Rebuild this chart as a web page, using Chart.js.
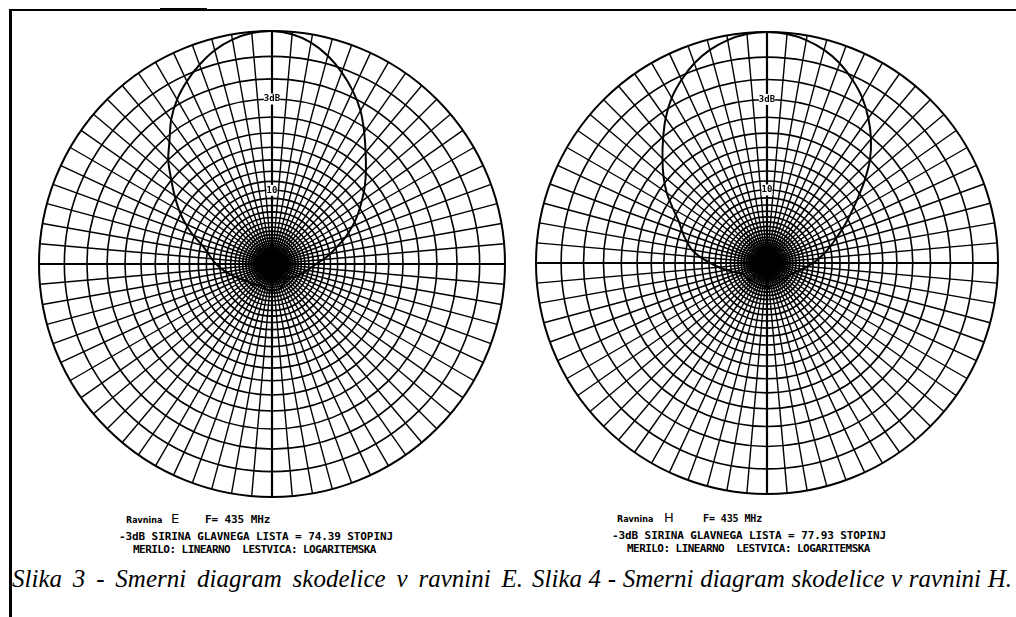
<!DOCTYPE html>
<html>
<head>
<meta charset="utf-8">
<script src="https://cdn.jsdelivr.net/npm/chart.js@4/dist/chart.umd.min.js"></script>
<style>
  html, body { margin: 0; padding: 0; background: #fff; }
  body { width: 1016px; height: 617px; position: relative; overflow: hidden; }
  .frameTop { position: absolute; left: 9px; top: 9px; width: 1007px; height: 2px; background: #000; }
  .frameTopThick { position: absolute; left: 160px; top: 8px; width: 47px; height: 3px; background: #000; }
  .frameLeft { position: absolute; left: 9px; top: 9px; width: 3px; height: 608px; background: #000; }
  canvas { position: absolute; }
  .info { position: absolute; font-family: "DejaVu Sans Mono", monospace; font-weight: bold;
          font-size: 11px; color: #000; white-space: pre; line-height: 13px; letter-spacing: -0.1px; }
  .small { position: absolute; font-family: "DejaVu Sans", sans-serif; font-size: 8px; font-weight: bold;
           letter-spacing: 0; color: #000; white-space: pre; }
  .big { position: absolute; font-family: "DejaVu Sans", sans-serif; font-size: 13px; color: #000; }
  .caption { position: absolute; top: 565px; font-family: "Liberation Serif", serif; font-style: italic;
             font-size: 25px; color: #000; white-space: nowrap; text-align: justify; text-align-last: justify; }
</style>
</head>
<body>
<div class="frameTop"></div>
<div class="frameTopThick"></div>
<div class="frameLeft"></div>

<canvas id="chartE" width="478" height="478" style="left:33px; top:25px"></canvas>
<canvas id="chartH" width="474" height="474" style="left:530px; top:26px"></canvas>

<div class="small" style="left:126px; top:516px">Ravnina</div>
<div class="big" style="left:171px; top:511px">E</div>
<div class="info" style="left:205px; top:513px">F= 435 MHz</div>
<div class="info" style="left:119px; top:530px">-3dB SIRINA GLAVNEGA LISTA = 74.39 STOPINJ</div>
<div class="info" style="left:133px; top:543px; letter-spacing:-0.55px">MERILO: LINEARNO  LESTVICA: LOGARITEMSKA</div>

<div class="small" style="left:617px; top:515px">Ravnina</div>
<div class="big" style="left:664px; top:510px">H</div>
<div class="info" style="left:703px; top:512px; font-size:10px">F= 435 MHz</div>
<div class="info" style="left:612px; top:529px">-3dB SIRINA GLAVNEGA LISTA = 77.93 STOPINJ</div>
<div class="info" style="left:627px; top:542px; letter-spacing:-0.55px">MERILO: LINEARNO  LESTVICA: LOGARITEMSKA</div>

<div class="caption" style="left:12px; width:511px">Slika 3 - Smerni diagram skodelice v ravnini E.</div>
<div class="caption" style="left:532px; width:480px">Slika 4 - Smerni diagram skodelice v ravnini H.</div>

<script>
/* ---------- data ---------- */
// angles in degrees, clockwise from the top (main lobe direction)
const angles = [
  0, 5, 10, 15, 20, 25, 30, 35, 40, 45, 50, 55, 60, 65, 70, 75, 80, 85,
  90, 95, 100, 105, 110, 115, 120, 125, 130, 135, 140, 145, 150, 155, 160, 165, 170, 175,
  180, 185, 190, 195, 200, 205, 210, 215, 220, 225, 230, 235, 240, 245, 250, 255, 260, 265,
  270, 275, 280, 285, 290, 295, 300, 305, 310, 315, 320, 325, 330, 335, 340, 345, 350, 355
];

// relative field strength (linear), E plane
const patternE = [
  1.0, 0.99, 0.965, 0.925, 0.875, 0.82, 0.76, 0.69, 0.625, 0.57, 0.52, 0.47, 0.425, 0.38, 0.335, 0.29, 0.255, 0.22,
  0.19, 0.17, 0.155, 0.14, 0.13, 0.12, 0.11, 0.10, 0.095, 0.09, 0.09, 0.095, 0.10, 0.105, 0.11, 0.112, 0.114, 0.114,
  0.114, 0.115, 0.114, 0.11, 0.105, 0.10, 0.105, 0.11, 0.115, 0.12, 0.125, 0.13, 0.14, 0.15, 0.165, 0.18, 0.20, 0.22,
  0.24, 0.26, 0.28, 0.31, 0.36, 0.41, 0.46, 0.51, 0.565, 0.63, 0.685, 0.755, 0.815, 0.865, 0.91, 0.95, 0.978, 0.995
];

// relative field strength (linear), H plane
const patternH = [
  1.0, 0.995, 0.98, 0.955, 0.92, 0.875, 0.825, 0.765, 0.70, 0.63, 0.55, 0.475, 0.415, 0.365, 0.32, 0.285, 0.255, 0.225,
  0.20, 0.175, 0.155, 0.135, 0.125, 0.115, 0.11, 0.105, 0.10, 0.10, 0.10, 0.10, 0.10, 0.10, 0.10, 0.10, 0.10, 0.105,
  0.105, 0.105, 0.10, 0.10, 0.10, 0.10, 0.10, 0.10, 0.10, 0.105, 0.105, 0.11, 0.11, 0.115, 0.125, 0.15, 0.175, 0.21,
  0.245, 0.29, 0.33, 0.36, 0.39, 0.42, 0.47, 0.53, 0.585, 0.64, 0.70, 0.765, 0.825, 0.875, 0.92, 0.955, 0.98, 0.995
];

// logarithmic grid: one circle per dB
const gridDb = [
  0, 1, 2, 3, 4, 5, 6, 7, 8, 9, 10, 11, 12, 13, 14, 15, 16, 17, 18, 19, 20,
  21, 22, 23, 24, 25, 26, 27, 28, 29, 30, 31, 32, 33, 34, 35
];
const tickLabelDb = [3, 10];
const tickLabelText = ['3dB', '10'];

/* ---------- charts ---------- */
const tickValues = [0].concat(gridDb.slice().reverse().map(db => Math.pow(10, -db / 20)));

function dbOf(v) {
  return Math.round(-20 * Math.log10(v));
}

function makeChart(id, pattern) {
  return new Chart(document.getElementById(id), {
    type: 'radar',
    data: {
      labels: angles,
      datasets: [{
        data: pattern,
        borderColor: '#000',
        borderWidth: 2,
        pointRadius: 0,
        fill: false,
        tension: 0.25
      }]
    },
    options: {
      responsive: false,
      animation: false,
      devicePixelRatio: 1,
      layout: { padding: 0 },
      plugins: { legend: { display: false }, tooltip: { enabled: false } },
      scales: {
        r: {
          min: 0,
          max: 1,
          startAngle: 0,
          afterBuildTicks: s => { s.ticks = tickValues.map(v => ({ value: v })); },
          grid: {
            circular: true,
            color: '#000',
            lineWidth: ctx => (ctx.tick && ctx.tick.value === 1 ? 2 : 1.6)
          },
          angleLines: {
            color: '#000',
            lineWidth: ctx => (angles[ctx.index] % 90 === 0 ? 2.2 : 1.4)
          },
          pointLabels: { display: false },
          ticks: {
            autoSkip: false,
            color: '#000',
            font: { family: 'DejaVu Sans Mono', size: 9, weight: 'bold', lineHeight: 1.2 },
            backdropColor: '#fff',
            backdropPadding: { x: 0, y: 1 },
            z: 1,
            callback: v => {
              if (v <= 0) return '';
              const k = tickLabelDb.indexOf(dbOf(v));
              return k >= 0 ? tickLabelText[k] : '';
            }
          }
        }
      }
    }
  });
}

makeChart('chartE', patternE);
makeChart('chartH', patternH);
</script>
</body>
</html>
